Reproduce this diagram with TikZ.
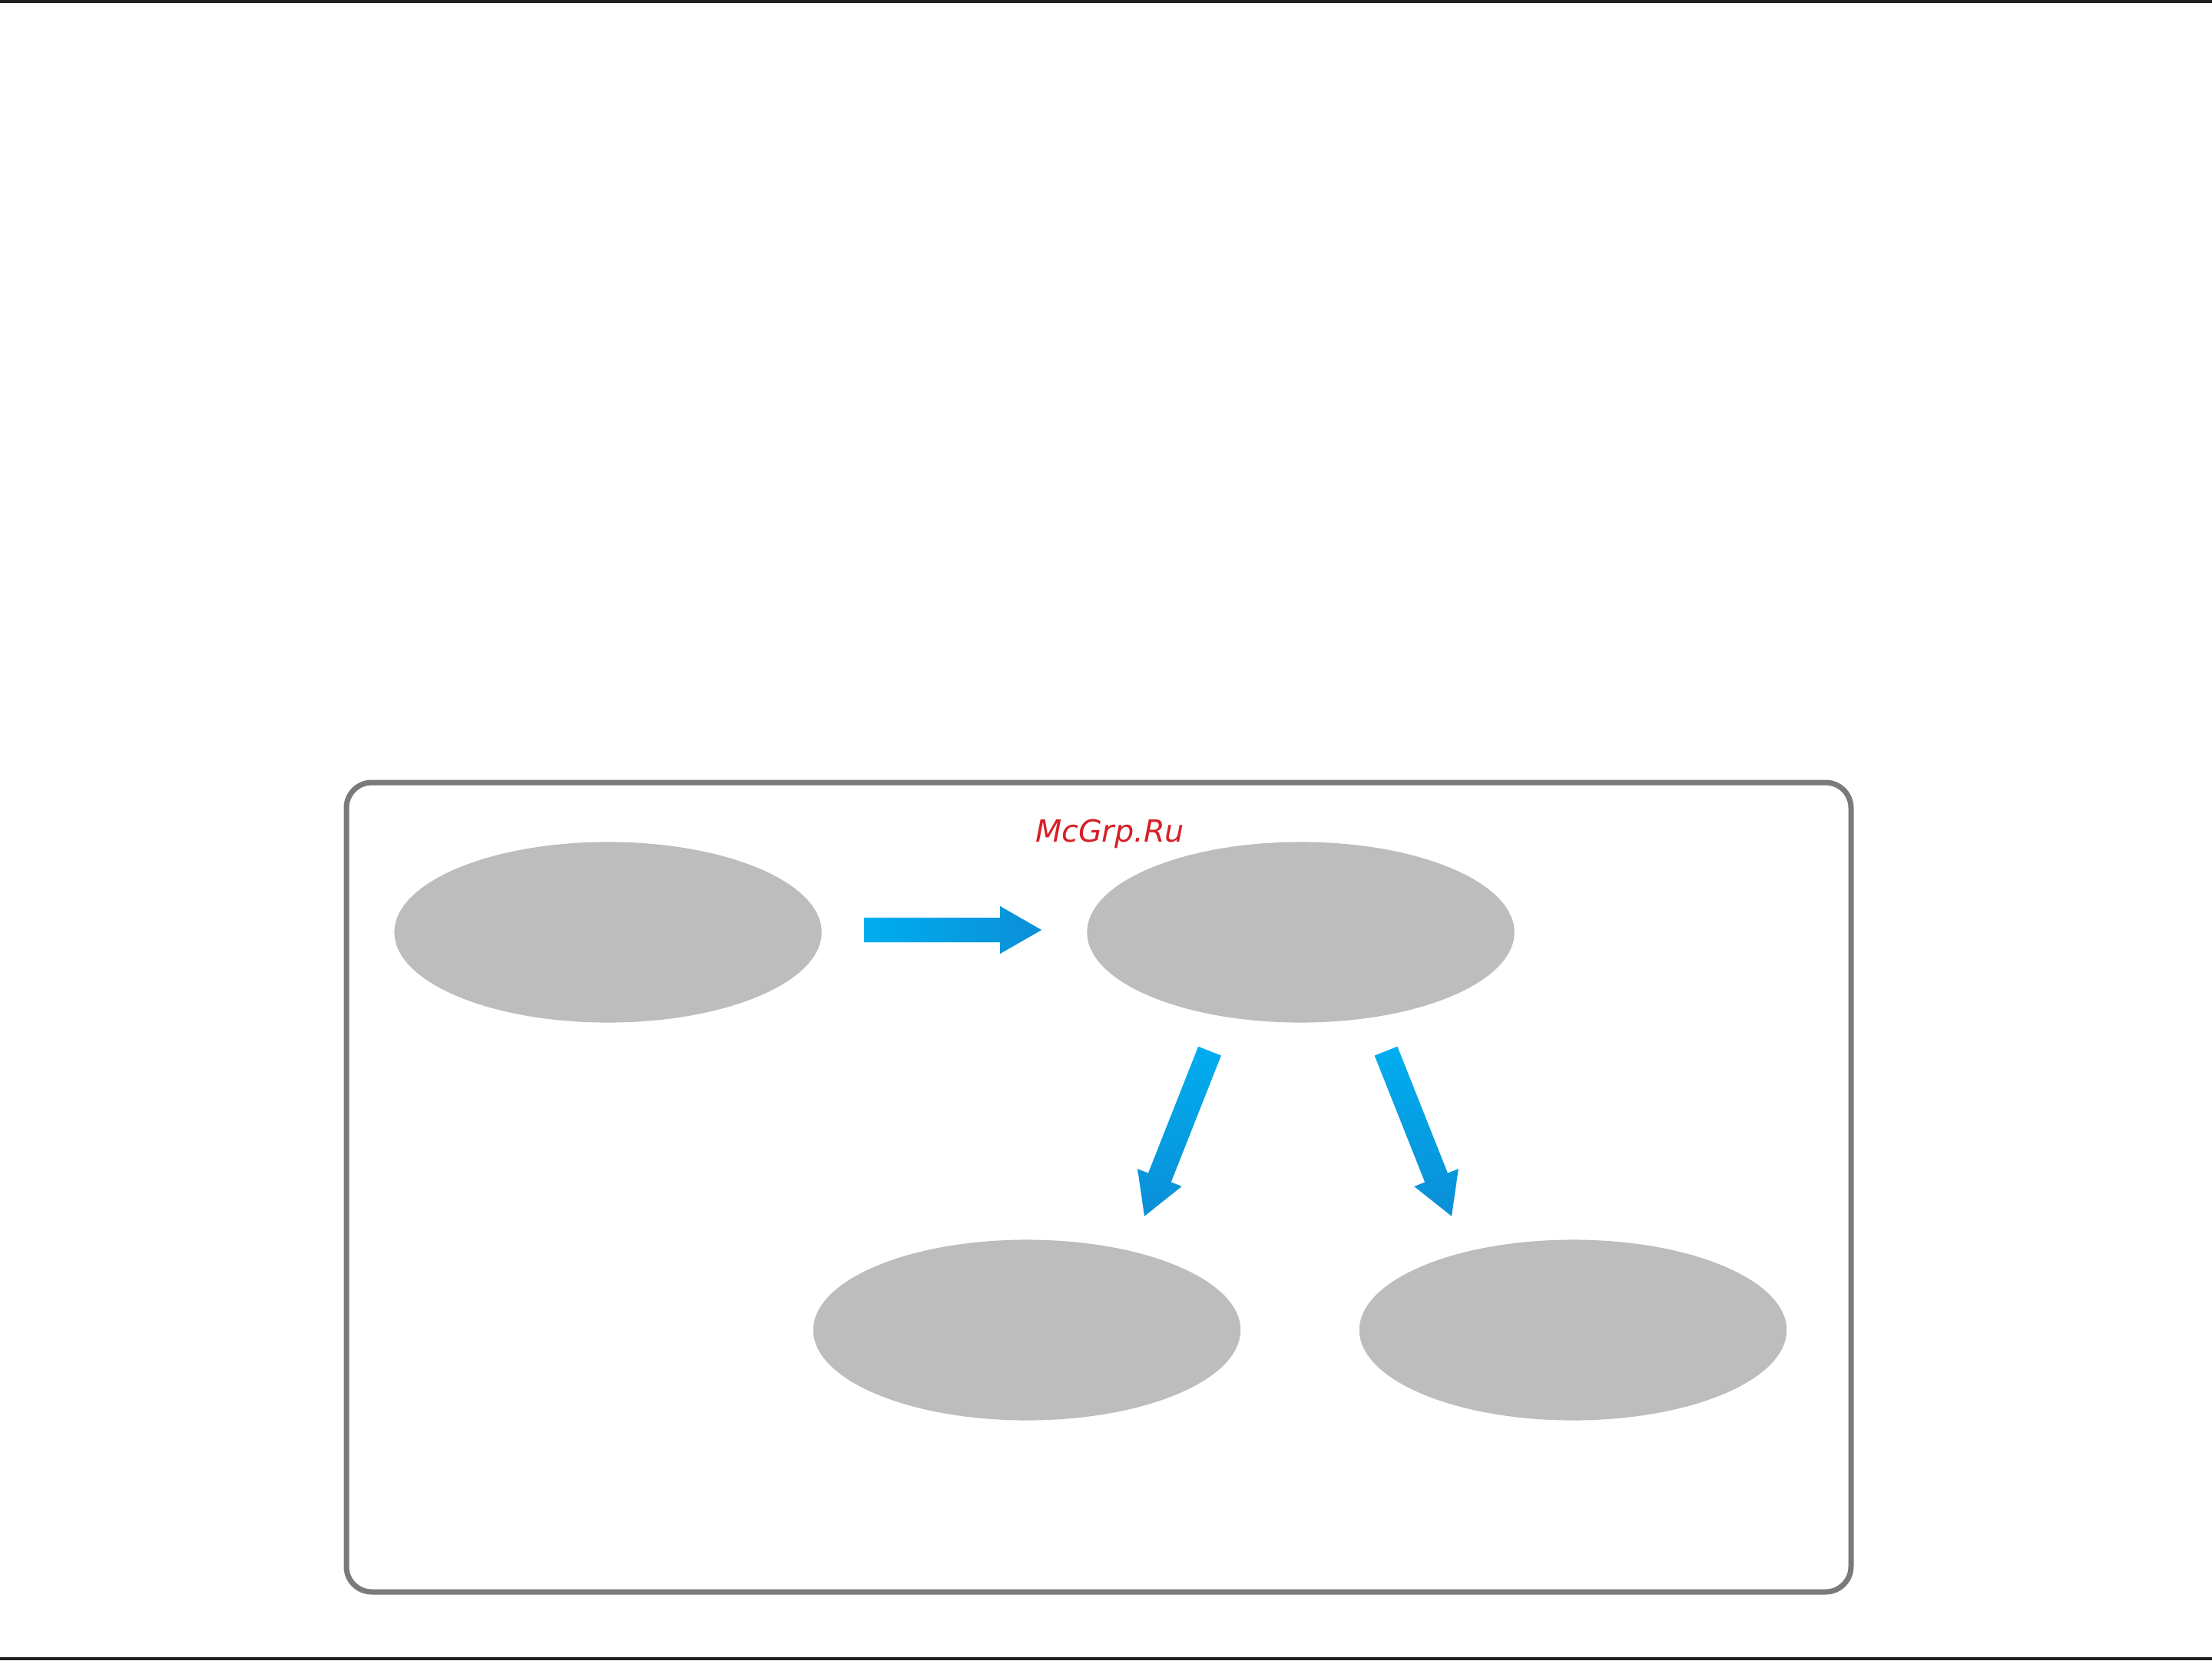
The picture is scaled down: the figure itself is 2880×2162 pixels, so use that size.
\documentclass[tikz,border=0pt]{standalone}
\usepackage{fontspec}
\newfontfamily\markfont{DejaVu Sans}
\usetikzlibrary{shapes.geometric, calc}
\definecolor{blobgray}{HTML}{BDBDBD}
\definecolor{framegray}{HTML}{7A7A7A}
\definecolor{rulegray}{HTML}{231F20}
\definecolor{arrowlight}{HTML}{00ADEF}
\definecolor{arrowdark}{HTML}{0B8FD7}
\definecolor{markred}{HTML}{D42127}

\begin{document}
\begin{tikzpicture}[x=0.01cm,y=-0.01cm,
	blob/.style={ellipse, fill=blobgray, minimum width=5.56cm, minimum height=2.35cm, inner sep=0pt},
	bigarrow/.style={draw=none, to path={
		($(\tikztostart)!0.16cm!90:(\tikztotarget)$)
		-- ($(\tikztotarget)!0.54cm!(\tikztostart)!0.16cm!90:(\tikztotarget)$)
		-- ($(\tikztotarget)!0.54cm!(\tikztostart)!0.31cm!90:(\tikztotarget)$)
		-- (\tikztotarget)
		-- ($(\tikztotarget)!0.54cm!(\tikztostart)!0.31cm!-90:(\tikztotarget)$)
		-- ($(\tikztotarget)!0.54cm!(\tikztostart)!0.16cm!-90:(\tikztotarget)$)
		-- ($(\tikztostart)!0.16cm!-90:(\tikztotarget)$) -- cycle}},
	across/.style={bigarrow, left color=arrowlight, right color=arrowdark},
	downward/.style={bigarrow, top color=arrowlight, bottom color=arrowdark}]
		\useasboundingbox (0,0) rectangle (2880,2162);
		% page rules
		\fill[rulegray] (0,0) rectangle (2880,4);
		\fill[rulegray] (0,2158) rectangle (2880,2162);

		% frame
		\draw[framegray, line width=0.07cm, rounded corners=0.33cm] (451,1019) rectangle (2410,2073);

		\node[blob							] (e1) 	at (791.6,1214) 	{};
		\node[blob							] (e2) 	at (1693.5,1214) 	{};
		\node[blob							] (e3) 	at (1337,1732) 		{};
		\node[blob							] (e4) 	at (2048,1732) 		{};

		\node[anchor=base, text=markred, font=\markfont\itshape\fontsize{11.3}{13}\selectfont] (mark) at (1445,1096) {McGrp.Ru};

		\coordinate (a1s) at ($(e1.east)+(55,-3)$);
		\coordinate (a1t) at ($(e2.west)+(-58.5,-3)$);
		\coordinate (a2s) at ($(e2.south)+(-118.5,36.4)$);
		\coordinate (a2t) at ($(e3.north)+(153,-30)$);
		\coordinate (a3s) at ($(e2.south)+(111,36.4)$);
		\coordinate (a3t) at ($(e4.north)+(-158,-30)$);

		\path[across	] (a1s) to (a1t);
		\path[downward	] (a2s) to (a2t);
		\path[downward	] (a3s) to (a3t);
	\end{tikzpicture}
\end{document}
